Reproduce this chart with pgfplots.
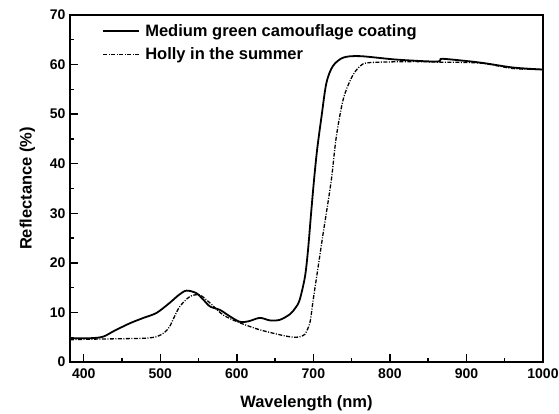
\documentclass[border=0pt]{standalone}
\usepackage{fontspec}
\setmainfont{Liberation Sans}
\usepackage{pgfplots}
\pgfplotsset{compat=1.18}

\begin{document}
\begin{tikzpicture}[x=1pt,y=1pt]
\begin{axis}[
    scale only axis,
    width=473pt, height=347pt,
    xmin=382, xmax=1000,
    ymin=0, ymax=70,
    xtick={400,500,...,1000},
    ytick={0,10,...,70},
    minor x tick num=1,
    minor y tick num=1,
    tick pos=left,
    tick align=inside,
    major tick length=8pt,
    minor tick length=4pt,
    axis line style={line width=1.6pt},
    every tick/.style={black, line width=1.4pt},
    tick label style={font=\fontsize{14}{16}\selectfont\bfseries},
    /pgf/number format/assume math mode=true,
    /pgf/number format/1000 sep={},
    xticklabel style={yshift=-3pt},
    yticklabel style={xshift=-1pt},
    xlabel={Wavelength (nm)},
    ylabel={Reflectance (\%)},
    label style={font=\fontsize{16.5}{19}\selectfont\bfseries},
    xlabel style={yshift=-10pt},
    ylabel style={yshift=8pt},
    legend style={draw=none, fill=none, at={(0.062,0.985)}, anchor=north west,
        font=\fontsize{16.5}{19}\selectfont\bfseries, row sep=6pt,
        nodes={inner xsep=5pt}},
    legend cell align=left,
    legend image code/.code={\draw[#1] (0pt,0pt) -- (36pt,0pt);},
]
\addplot[black, line width=1.8pt, smooth] coordinates {
    (382,4.8) (408,4.8) (425,5.1) (440,6.3) (460,7.8) (478,8.9) (495,9.9)
    (512,11.9) (524,13.5) (534,14.4) (547,13.9) (556,12.6) (565,11.2) (578,10.5)
    (591,9.2) (604,8.1) (615,8.2) (630,8.9) (643,8.4) (656,8.5) (669,9.6)
    (676,10.8) (682,12.5) (689,17.2) (693,22.6) (697,30) (701,37) (705,43)
    (710.7,49.6) (717,56.3) (725.5,59.7) (739,61.4) (761,61.7) (809,61.0)
    (861,60.6) (866,61.1) (875,61.1) (918,60.4) (961,59.4) (1000,59.0)
};
\addlegendentry{Medium green camouflage coating}
\addplot[black, line width=1.3pt, dash pattern=on 4pt off 1.5pt on 1pt off 1.5pt, smooth] coordinates {
    (382,4.5) (408,4.6) (450,4.7) (480,4.8) (495,5.1) (505,5.9) (512,7.1)
    (518,9.0) (525.5,11.2) (538.6,13.2) (551.6,13.5) (565,11.9) (582,9.5)
    (604,7.9) (630,6.5) (656,5.5) (669,5.1) (678,5.0) (685,5.2) (689,5.6)
    (695.4,7.9) (699.7,12.5) (706.3,19.3) (712.8,26) (719,32.1) (724,37.4)
    (730,45.5) (739,53) (750,57.4) (761,59.7) (774,60.4) (830,60.6)
    (861,60.5) (918,60.3) (961,59.2) (1000,59.0)
};
\addlegendentry{Holly in the summer}
\end{axis}
\pgfresetboundingbox
\useasboundingbox (-70,-51) rectangle (489,362);
\end{tikzpicture}
\end{document}
